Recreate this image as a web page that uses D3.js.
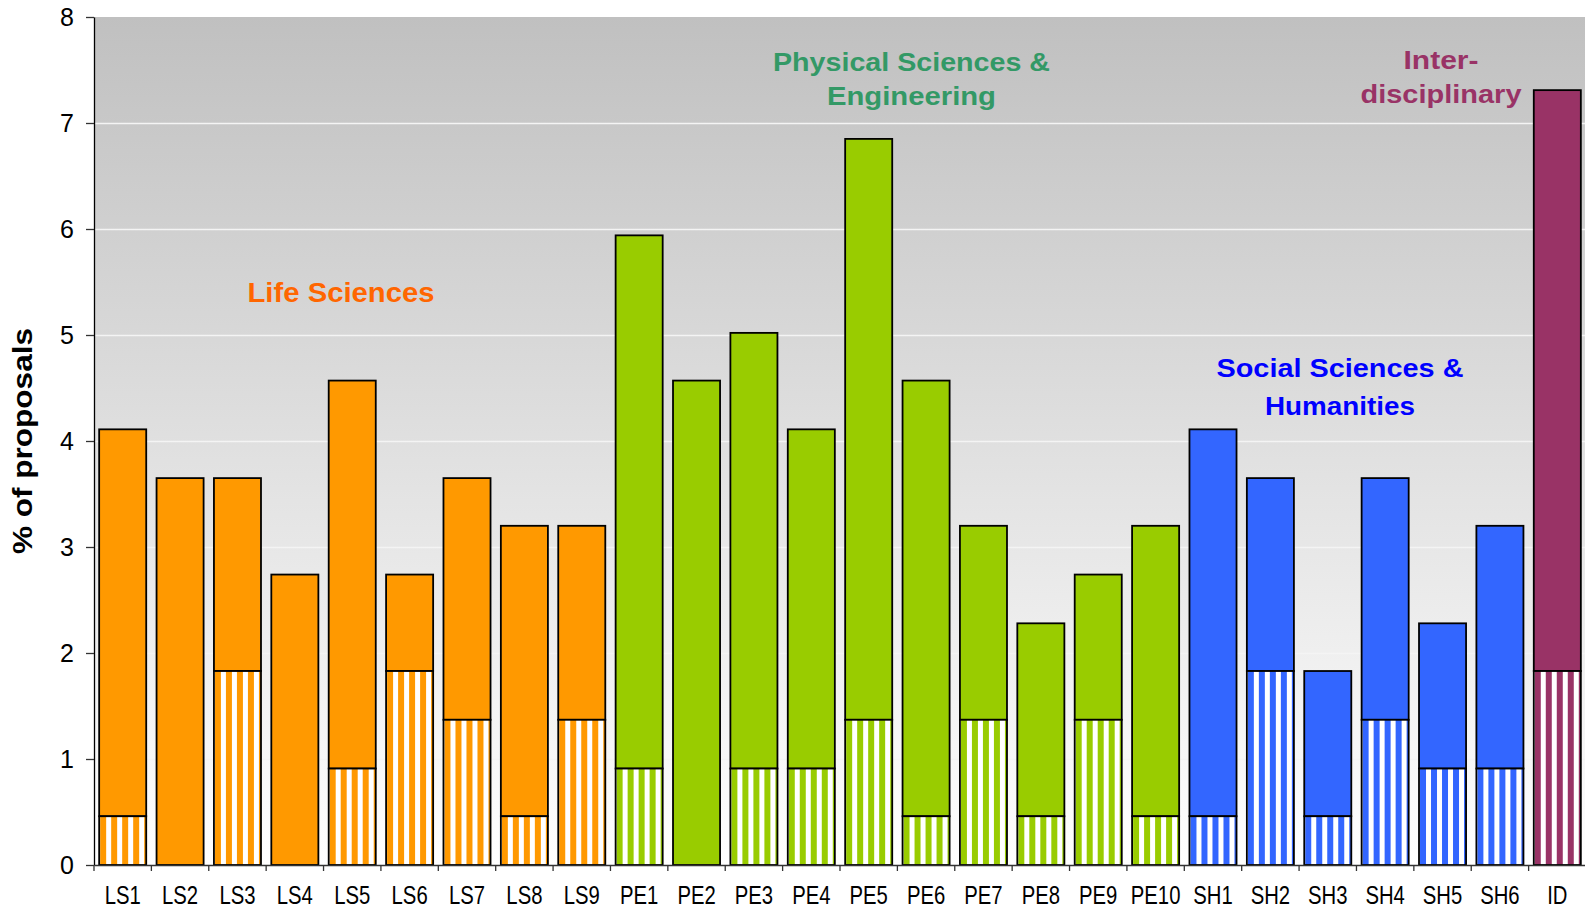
<!DOCTYPE html>
<html><head><meta charset="utf-8">
<script src="https://cdn.jsdelivr.net/npm/d3@7"></script>
<style>body{margin:0;background:#fff}svg{display:block}</style>
</head><body><svg id="chart" width="1585" height="910"></svg>
<script>
// ---- data ----
const categories = ["LS1","LS2","LS3","LS4","LS5","LS6","LS7","LS8","LS9",
  "PE1","PE2","PE3","PE4","PE5","PE6","PE7","PE8","PE9","PE10",
  "SH1","SH2","SH3","SH4","SH5","SH6","ID"];
const categoryGroups = ["LS","LS","LS","LS","LS","LS","LS","LS","LS",
  "PE","PE","PE","PE","PE","PE","PE","PE","PE","PE",
  "SH","SH","SH","SH","SH","SH","ID"];
const totalValues = [4.11,3.65,3.65,2.74,4.57,2.74,3.65,3.20,3.20,
  5.94,4.57,5.02,4.11,6.85,4.57,3.20,2.28,2.74,3.20,
  4.11,3.65,1.83,3.65,2.28,3.20,7.31];
const stripedValues = [0.46,0,1.83,0,0.91,1.83,1.37,0.46,1.37,
  0.91,0,0.91,0.91,1.37,0.46,1.37,0.46,1.37,0.46,
  0.46,1.83,0.46,1.37,0.91,0.91,1.83];
const yTicks = [0,1,2,3,4,5,6,7,8];
const groupKeys = ["LS","PE","SH","ID"];
const groupTitleLines = [["Life Sciences"],["Physical Sciences &","Engineering"],
  ["Social Sciences &","Humanities"],["Inter-","disciplinary"]];
const yAxisTitle = "% of proposals";

// ---- styles / layout ----
const groupColors = {LS:"#FF9900", PE:"#99CC00", SH:"#3366FF", ID:"#993366"};
const titleColors = {LS:"#FF6600", PE:"#339966", SH:"#0000FF", ID:"#993366"};
const titleLayout = {
  LS:{x:341, base:[302], size:27, len:[187]},
  PE:{x:911.5, base:[71,105], size:25, len:[277,169]},
  SH:{x:1340, base:[377,415], size:25, len:[247,150]},
  ID:{x:1441, base:[69,103], size:25, len:[75,161]}
};
const FONT = "'Liberation Sans', Arial, sans-serif";
const L = 94, R = 1586, T = 17, B = 865;

const svg = d3.select("#chart");
const defs = svg.append("defs");

const x = d3.scaleBand().domain(categories).range([L, R]).paddingInner(0.18).paddingOuter(0.09);
const y = d3.scaleLinear().domain([0, 8]).range([B, T]);

// background gradient
const grad = defs.append("linearGradient").attr("id","bg").attr("x1",0).attr("y1",0).attr("x2",0).attr("y2",1);
grad.append("stop").attr("offset","0%").attr("stop-color","#C0C0C0");
grad.append("stop").attr("offset","100%").attr("stop-color","#FFFFFF");
svg.append("rect").attr("x",L).attr("y",T).attr("width",R-L).attr("height",B-T).attr("fill","url(#bg)");

// gridlines
svg.append("g").attr("transform",`translate(${L},0)`)
  .call(d3.axisLeft(y).tickValues(yTicks.filter(v=>v>0 && v<8)).tickSize(-(R-L)).tickFormat(""))
  .call(g=>g.select(".domain").remove())
  .call(g=>g.selectAll("line").attr("stroke","#F4F4F4").attr("stroke-width",1.5));

// stripe patterns
const data = categories.map((c,i)=>({cat:c, group:categoryGroups[i], total:totalValues[i], striped:stripedValues[i]}));
data.forEach((d,i)=>{
  const p = defs.append("pattern").attr("id","stripe"+i).attr("patternUnits","userSpaceOnUse")
    .attr("x", x(d.cat)+1).attr("y",0).attr("width",11).attr("height",20);
  p.append("rect").attr("width",11).attr("height",20).attr("fill","#fff");
  p.append("rect").attr("width",6).attr("height",20).attr("fill",groupColors[d.group]);
});

const bars = svg.append("g");
bars.selectAll("rect.solid").data(data).join("rect").attr("class","solid")
  .attr("x",d=>x(d.cat)).attr("width",x.bandwidth())
  .attr("y",d=>y(d.total)).attr("height",d=>y(d.striped)-y(d.total))
  .attr("fill",d=>groupColors[d.group]).attr("stroke","#000").attr("stroke-width",1.8);
bars.selectAll("rect.striped").data(data.filter(d=>d.striped>0)).join("rect").attr("class","striped")
  .attr("x",d=>x(d.cat)).attr("width",x.bandwidth())
  .attr("y",d=>y(d.striped)).attr("height",d=>y(0)-y(d.striped))
  .attr("fill",d=>"url(#stripe"+categories.indexOf(d.cat)+")").attr("stroke","#000").attr("stroke-width",1.8);

// y axis
svg.append("g").attr("transform",`translate(${L},0)`)
  .call(d3.axisLeft(y).tickValues(yTicks).tickSize(8).tickSizeOuter(0).tickPadding(12))
  .call(g=>g.select(".domain").attr("stroke","#000").attr("stroke-width",1.3))
  .call(g=>g.selectAll(".tick line").attr("stroke","#333").attr("stroke-width",1.3))
  .call(g=>g.selectAll("text").attr("font-family",FONT).attr("font-size",25).attr("fill","#000"));

// x axis
svg.append("g").attr("transform",`translate(0,${B})`)
  .call(d3.axisBottom(x).tickSize(0).tickSizeOuter(0))
  .call(g=>g.select(".domain").attr("stroke","#333").attr("stroke-width",1.3))
  .call(g=>g.selectAll("text").attr("font-family",FONT).attr("font-size",26).attr("fill","#000")
     .attr("y",39).attr("dy",0).attr("transform","scale(0.78,1)"));
// boundary ticks
const off = x.step()*x.paddingOuter();
svg.append("g").selectAll("line").data(categories).join("line")
  .attr("x1",d=>x(d)-off).attr("x2",d=>x(d)-off).attr("y1",B).attr("y2",B+6)
  .attr("stroke","#333").attr("stroke-width",1.3);

// y title
svg.append("text").attr("transform","translate(32,441) rotate(-90)")
  .attr("text-anchor","middle").attr("font-family",FONT).attr("font-weight","bold")
  .attr("font-size",27).attr("textLength",226).attr("lengthAdjust","spacingAndGlyphs").text(yAxisTitle);

// group titles
groupKeys.forEach((k,gi)=>{
  const lay = titleLayout[k];
  groupTitleLines[gi].forEach((line,li)=>{
    svg.append("text").attr("x",lay.x).attr("y",lay.base[li]).attr("text-anchor","middle")
      .attr("font-family",FONT).attr("font-weight","bold").attr("font-size",lay.size)
      .attr("fill",titleColors[k]).attr("textLength",lay.len[li]).attr("lengthAdjust","spacingAndGlyphs")
      .text(line);
  });
});
</script></body></html>
